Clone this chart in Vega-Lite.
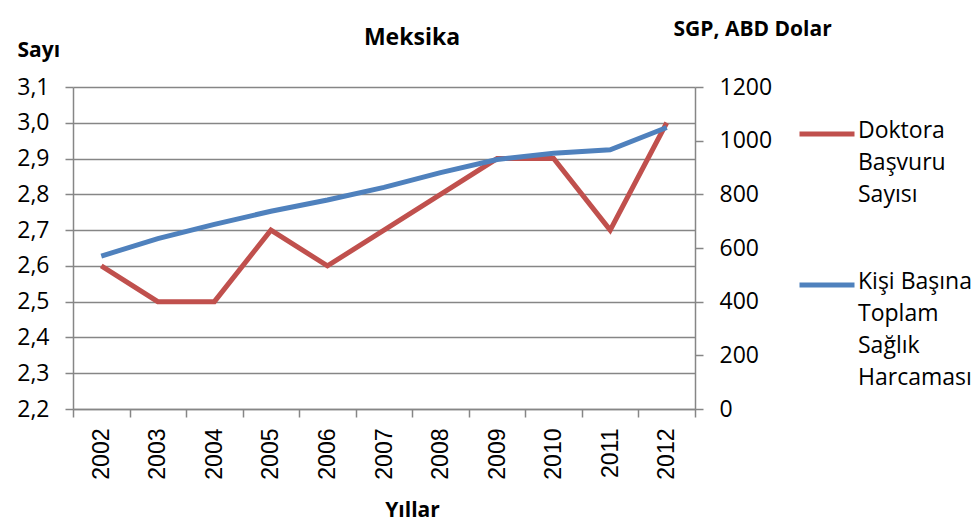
{
  "$schema": "https://vega.github.io/schema/vega-lite/v6.json",
  "autosize": "none",
  "width": 622,
  "height": 322,
  "padding": {"left": 73, "top": 87, "right": 284, "bottom": 121},
  "background": "white",
  "title": {"text": "Meksika", "font": "Open Sans", "fontSize": 23, "fontWeight": "bold", "color": "#000000", "dx": 28, "dy": 32, "offset": 0, "anchor": "middle"},
  "data": {"values": [
    {"year": "2002", "series": "Doktora Başvuru Sayısı", "value": 2.6},
    {"year": "2003", "series": "Doktora Başvuru Sayısı", "value": 2.5},
    {"year": "2004", "series": "Doktora Başvuru Sayısı", "value": 2.5},
    {"year": "2005", "series": "Doktora Başvuru Sayısı", "value": 2.7},
    {"year": "2006", "series": "Doktora Başvuru Sayısı", "value": 2.6},
    {"year": "2007", "series": "Doktora Başvuru Sayısı", "value": 2.7},
    {"year": "2008", "series": "Doktora Başvuru Sayısı", "value": 2.8},
    {"year": "2009", "series": "Doktora Başvuru Sayısı", "value": 2.9},
    {"year": "2010", "series": "Doktora Başvuru Sayısı", "value": 2.9},
    {"year": "2011", "series": "Doktora Başvuru Sayısı", "value": 2.7},
    {"year": "2012", "series": "Doktora Başvuru Sayısı", "value": 3.0},
    {"year": "2002", "series": "Kişi Başına Toplam Sağlık Harcaması", "value": 570},
    {"year": "2003", "series": "Kişi Başına Toplam Sağlık Harcaması", "value": 635},
    {"year": "2004", "series": "Kişi Başına Toplam Sağlık Harcaması", "value": 688},
    {"year": "2005", "series": "Kişi Başına Toplam Sağlık Harcaması", "value": 737},
    {"year": "2006", "series": "Kişi Başına Toplam Sağlık Harcaması", "value": 779},
    {"year": "2007", "series": "Kişi Başına Toplam Sağlık Harcaması", "value": 826},
    {"year": "2008", "series": "Kişi Başına Toplam Sağlık Harcaması", "value": 881},
    {"year": "2009", "series": "Kişi Başına Toplam Sağlık Harcaması", "value": 930},
    {"year": "2010", "series": "Kişi Başına Toplam Sağlık Harcaması", "value": 953},
    {"year": "2011", "series": "Kişi Başına Toplam Sağlık Harcaması", "value": 966},
    {"year": "2012", "series": "Kişi Başına Toplam Sağlık Harcaması", "value": 1049}
  ]},
  "encoding": {
    "x": {
      "field": "year", "type": "ordinal",
      "scale": {"type": "band", "paddingInner": 0, "paddingOuter": 0},
      "axis": {
        "title": "Yıllar", "titleFont": "Open Sans", "titleFontSize": 21, "titleFontWeight": "bold", "titleColor": "#000000",
        "titleAnchor": "start", "titleX": 339, "titleY": 101, "titleAlign": "center", "titleBaseline": "middle",
        "labelAngle": -90, "labelAlign": "right", "labelBaseline": "middle", "labelPadding": 11,
        "labelFont": "Liberation Sans", "labelFontSize": 23, "labelColor": "#000000",
        "tickBand": "extent", "tickSize": 8, "tickColor": "#868686", "tickWidth": 1.5,
        "domainColor": "#868686", "domainWidth": 1.5, "grid": false
      }
    },
    "color": {
      "field": "series", "type": "nominal",
      "scale": {"domain": ["Doktora Başvuru Sayısı", "Kişi Başına Toplam Sağlık Harcaması"], "range": ["#C0504D", "#4F81BD"]},
      "legend": {
        "title": null, "orient": "none", "legendX": 724, "legendY": 17,
        "symbolType": "stroke", "symbolSize": 3025, "symbolStrokeWidth": 5,
        "labelFont": "Open Sans", "labelFontSize": 23, "labelColor": "#000000", "labelBaseline": "top",
        "labelOffset": 1, "labelLimit": 200, "rowPadding": 48,
        "labelExpr": "datum.label == 'Doktora Başvuru Sayısı' ? ['Doktora', 'Başvuru', 'Sayısı'] : ['Kişi Başına', 'Toplam', 'Sağlık', 'Harcaması']",
        "encode": {"labels": {"update": {"lineHeight": {"value": 32}, "dy": {"value": -14}}}}
      }
    }
  },
  "layer": [
    {
      "transform": [{"filter": "datum.series == 'Doktora Başvuru Sayısı'"}],
      "mark": {"type": "line", "strokeWidth": 5},
      "encoding": {
        "y": {
          "field": "value", "type": "quantitative",
          "scale": {"domain": [2.2, 3.1], "nice": false, "zero": false},
          "axis": {
            "title": "Sayı", "titleFont": "Open Sans", "titleFontSize": 21, "titleFontWeight": "bold", "titleColor": "#000000",
            "titleAngle": 0, "titleAnchor": "start", "titleX": -56, "titleY": -37, "titleAlign": "left", "titleBaseline": "middle",
            "values": [2.2, 2.3, 2.4, 2.5, 2.6, 2.7, 2.8, 2.9, 3.0, 3.1],
            "labelExpr": "replace(format(datum.value, '.1f'), '.', ',')",
            "labelFont": "Open Sans", "labelFontSize": 23, "labelColor": "#000000", "labelPadding": 16,
            "tickSize": 8, "tickColor": "#868686", "tickWidth": 1.5,
            "domainColor": "#868686", "domainWidth": 1.5,
            "grid": true, "gridColor": "#868686", "gridWidth": 1.5
          }
        }
      }
    },
    {
      "transform": [{"filter": "datum.series == 'Kişi Başına Toplam Sağlık Harcaması'"}],
      "mark": {"type": "line", "strokeWidth": 5},
      "encoding": {
        "y": {
          "field": "value", "type": "quantitative",
          "scale": {"domain": [0, 1200], "nice": false},
          "axis": {
            "orient": "right",
            "title": "SGP, ABD Dolar", "titleFont": "Open Sans", "titleFontSize": 21, "titleFontWeight": "bold", "titleColor": "#000000",
            "titleAngle": 0, "titleAnchor": "start", "titleX": -22, "titleY": -58, "titleAlign": "left", "titleBaseline": "middle",
            "values": [0, 200, 400, 600, 800, 1000, 1200],
            "format": "d",
            "labelFont": "Open Sans", "labelFontSize": 23, "labelColor": "#000000", "labelPadding": 16,
            "tickSize": 8, "tickColor": "#868686", "tickWidth": 1.5,
            "domainColor": "#868686", "domainWidth": 1.5,
            "grid": false
          }
        }
      }
    }
  ],
  "resolve": {"scale": {"y": "independent"}},
  "config": {"view": {"stroke": null}, "style": {"guide-label": {"lineHeight": 32}}}
}
